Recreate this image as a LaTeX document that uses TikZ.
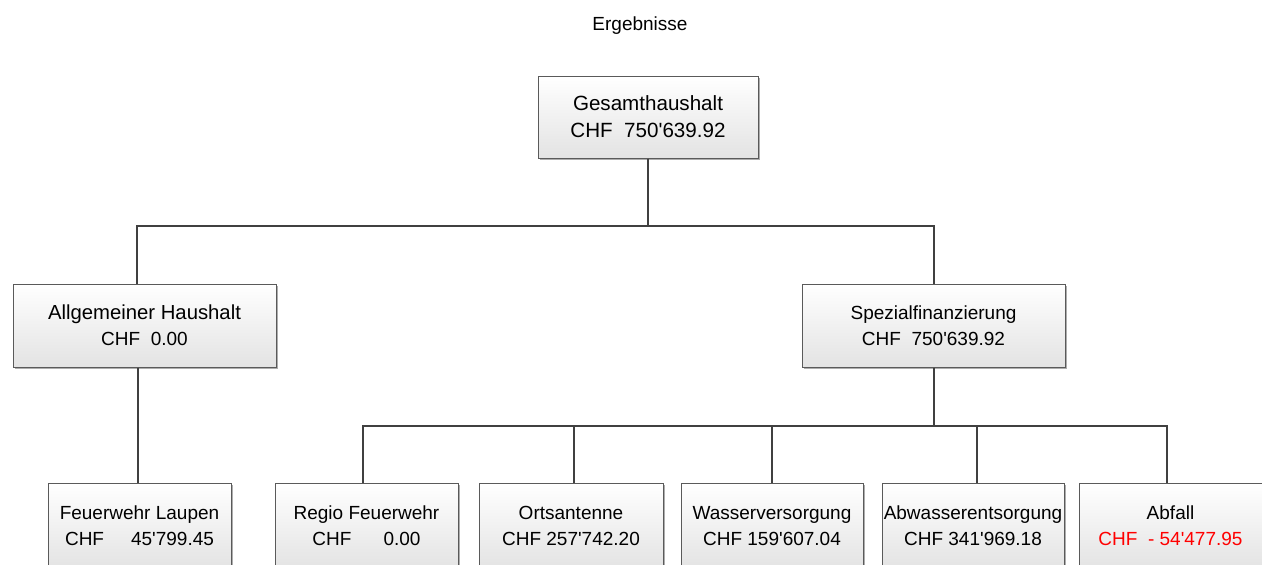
\documentclass[tikz,border=0pt]{standalone}
\usepackage{fontspec}
\newfontfamily\arial{Liberation Sans}
\usetikzlibrary{shadows}
\definecolor{linec}{HTML}{404040}
\definecolor{boxline}{HTML}{5A5A5A}
\tikzset{
  orgbox/.style={draw=boxline, line width=1pt, top color=white, bottom color=black!11,
    minimum height=82pt, inner sep=0pt, align=center,
    font=\arial\fontsize{19}{26}\selectfont,
    drop shadow={shadow xshift=1.8pt, shadow yshift=-1.8pt, fill=black!40, opacity=0.8}},
  conn/.style={draw=linec, line width=2pt}
}
\begin{document}
\begin{tikzpicture}[x=1pt,y=-1pt]
\useasboundingbox (0,0) rectangle (1262,565);
\fill[white] (0,0) rectangle (1262,565);
\node[font=\arial\fontsize{19}{23}\selectfont] (title) at (640,26) {Ergebnisse};

\node[orgbox, minimum width=220pt, font=\arial\fontsize{20.6}{27}\selectfont] (ges) at (648,117) {Gesamthaushalt\\CHF\ \ 750'639.92};
\node[orgbox, minimum width=263pt, minimum height=83pt] (allg) at (144.5,325.5) {{\fontsize{20.3}{26}\selectfont Allgemeiner Haushalt}\\CHF\ \ 0.00};
\node[orgbox, minimum width=263pt, minimum height=83pt] (spez) at (933.5,325.5) {Spezialfinanzierung\\CHF\ \ 750'639.92};

\node[orgbox, minimum width=183pt, minimum height=86pt] (feu) at (139.5,526) {Feuerwehr Laupen\\CHF\hspace{27pt}45'799.45};
\node[orgbox, minimum width=183pt, minimum height=86pt] (regio) at (366.5,526) {Regio Feuerwehr\\CHF\hspace{32pt}0.00};
\node[orgbox, minimum width=184pt, minimum height=86pt] (orts) at (571,526) {Ortsantenne\\CHF 257'742.20};
\node[orgbox, minimum width=182pt, minimum height=86pt] (wasser) at (772,526) {Wasserversorgung\\CHF 159'607.04};
\node[orgbox, minimum width=182pt, minimum height=86pt] (abw) at (973,526) {Abwasserentsorgung\\CHF 341'969.18};
\node[orgbox, minimum width=183pt, minimum height=86pt] (abf) at (1170.5,526) {Abfall\\\textcolor{red}{CHF\ \ -\ 54'477.95}};

\coordinate (bus1) at (648,226);
\coordinate (bus2) at (933.5,426);

\draw[conn] (ges.south) -- (bus1);
\draw[conn] ([xshift=-7.5pt]allg.north) |- (bus1) -| (spez.north);
\draw[conn] ([xshift=-6.5pt]allg.south) -- ([xshift=-1.5pt]feu.north);
\draw[conn] (spez.south) -- (bus2);
\draw[conn] ([xshift=-3.5pt]regio.north) |- (bus2) -| ([xshift=-3.5pt]abf.north);
\draw[conn] ([xshift=3pt]orts.north) -- ([xshift=3pt]orts.north |- bus2);
\draw[conn] (wasser.north) -- (wasser.north |- bus2);
\draw[conn] ([xshift=4pt]abw.north) -- ([xshift=4pt]abw.north |- bus2);
\end{tikzpicture}
\end{document}
